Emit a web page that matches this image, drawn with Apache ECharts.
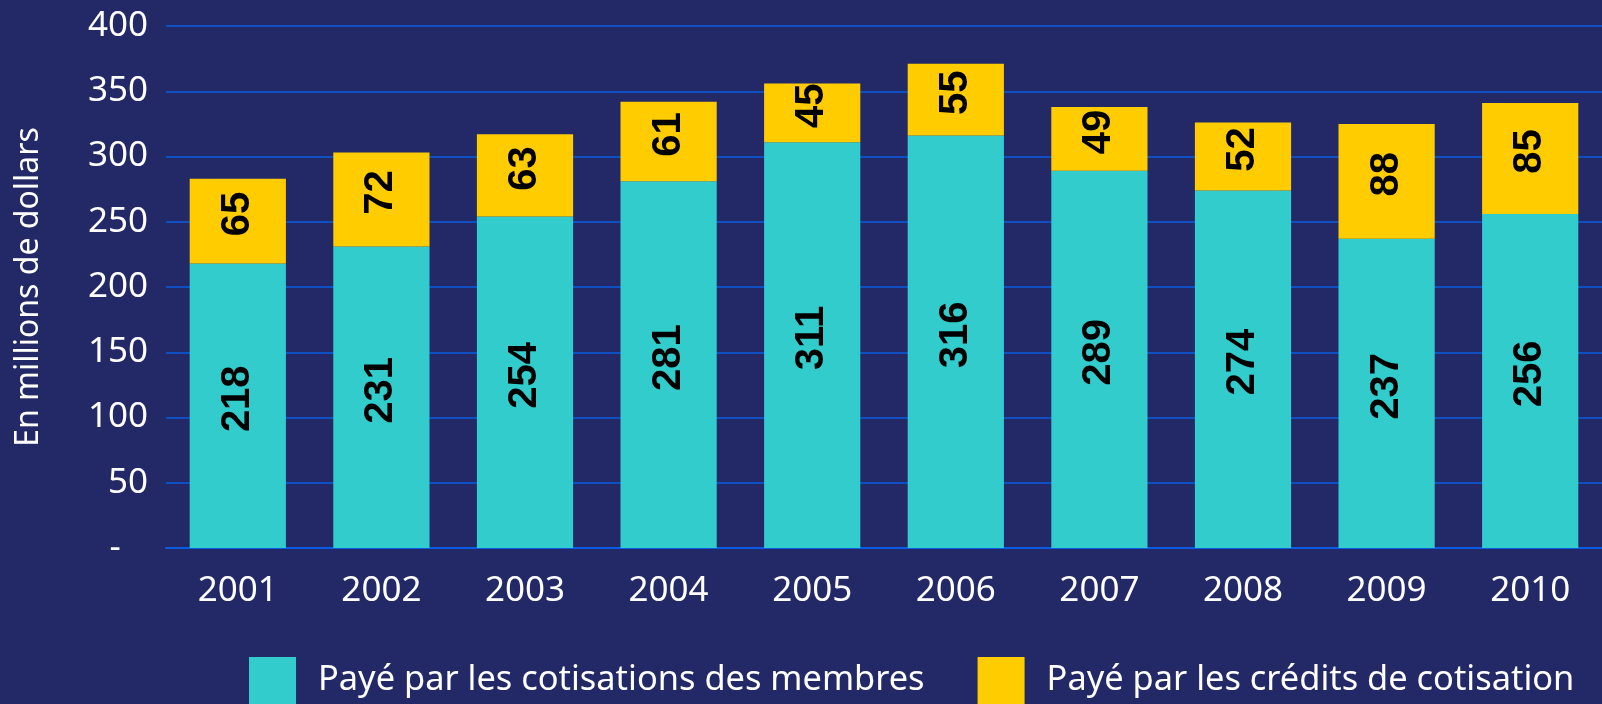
<!DOCTYPE html>
<html>
<head>
<meta charset="utf-8">
<script src="https://cdn.jsdelivr.net/npm/echarts@6/dist/echarts.min.js"></script>
<style>
  html, body { margin: 0; padding: 0; background: #232866; }
  #main { width: 1602px; height: 704px; }
</style>
</head>
<body>
<div id="main"></div>
<script>
var years = ['2001', '2002', '2003', '2004', '2005', '2006', '2007', '2008', '2009', '2010'];
var membres = [218, 231, 254, 281, 311, 316, 289, 274, 237, 256];
var credits = [65, 72, 63, 61, 45, 55, 49, 52, 88, 85];
var seriesNames = ['Payé par les cotisations des membres', 'Payé par les crédits de cotisation'];

var myChart = echarts.init(document.getElementById('main'));

// labels are turned 90deg, so the offset is in the turned frame: +x moves them up
var barLabel = {
    show: true,
    position: 'inside',
    rotate: 90,
    offset: [7, 0],
    color: '#000',
    fontFamily: 'Liberation Sans',
    fontWeight: 'bold',
    fontSize: 40
};

myChart.setOption({
    backgroundColor: '#232866',
    animation: false,
    grid: {
        left: 166,
        right: 0,
        top: 26,
        bottom: 156,
        outerBoundsMode: 'none'
    },
    legend: {
        left: 244,
        top: 652,
        itemWidth: 47,
        itemHeight: 47,
        itemGap: 53,
        icon: 'rect',
        textStyle: {
            color: '#fff',
            fontFamily: 'Noto Sans',
            fontSize: 34.4,
            padding: [0, 0, 0, 17]
        },
        data: seriesNames
    },
    xAxis: {
        type: 'category',
        data: years,
        axisTick: { show: false },
        axisLine: { lineStyle: { color: '#0b5ce0', width: 2 } },
        axisLabel: {
            color: '#fff',
            fontFamily: 'Noto Sans',
            fontSize: 35,
            margin: 26
        }
    },
    yAxis: {
        type: 'value',
        min: 0,
        max: 400,
        interval: 50,
        name: 'En millions de dollars',
        nameLocation: 'middle',
        nameGap: 121,
        nameTextStyle: {
            color: '#fff',
            fontFamily: 'Noto Sans',
            fontSize: 32
        },
        axisLine: { show: false },
        axisTick: { show: false },
        splitLine: { lineStyle: { color: '#0b5ce0', width: 1.5 } },
        axisLabel: {
            color: '#fff',
            fontFamily: 'Noto Sans',
            fontSize: 35,
            margin: 18,
            formatter: function (v) { return v === 0 ? '-   ' : String(v); }
        }
    },
    series: [{
        name: seriesNames[0],
        type: 'bar',
        stack: 'total',
        barCategoryGap: '33%',
        itemStyle: { color: '#33CCCC' },
        label: barLabel,
        data: membres
    }, {
        name: seriesNames[1],
        type: 'bar',
        stack: 'total',
        barCategoryGap: '33%',
        itemStyle: { color: '#FFCC00' },
        label: barLabel,
        data: credits
    }]
});
</script>
</body>
</html>
